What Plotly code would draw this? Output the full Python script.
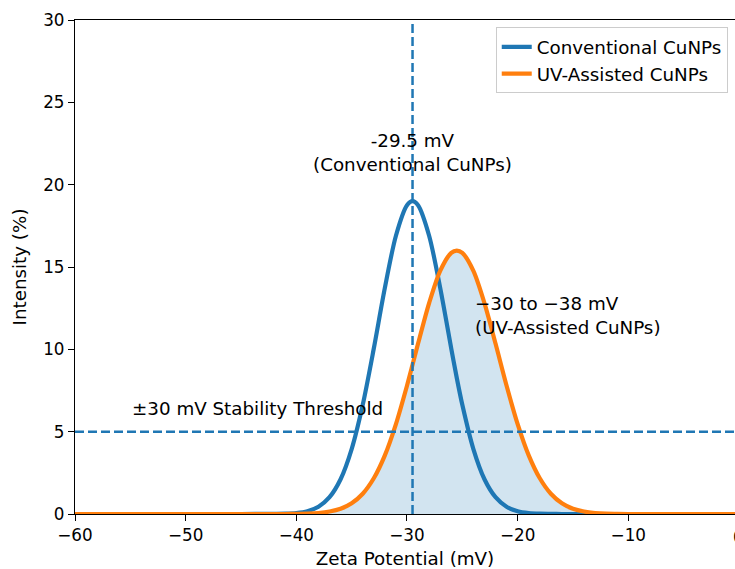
import plotly.graph_objects as go

# ---- data ----
zeta_mv = [-60, -50, -45, -42, -41, -40, -39, -38, -37, -36, -35, -34, -33, -32, -31, -30,
           -29.5, -29, -28, -27, -26, -25.5, -25, -24, -23, -22, -21, -20, -19, -18, -17,
           -16, -15, -14, -13, -12, -11, -10, 0]
conventional = [0, 0, 0, 0.01, 0.02, 0.06, 0.17, 0.44, 1.02, 2.11, 3.94, 6.63, 10.05, 13.73, 16.90, 18.75,
                19.0, 18.75, 16.90, 13.73, 10.05, 8.26, 6.63, 3.94, 2.11, 1.02, 0.44, 0.17, 0.06, 0.02, 0.01,
                0, 0, 0, 0, 0, 0, 0, 0]
uv_assisted = [0, 0, 0, 0, 0, 0.01, 0.02, 0.06, 0.15, 0.32, 0.65, 1.23, 2.17, 3.56, 5.46, 7.79,
               9.06, 10.35, 12.81, 14.77, 15.86, 16.0, 15.86, 14.77, 12.81, 10.35, 7.79, 5.46, 3.56, 2.17, 1.23,
               0.65, 0.32, 0.15, 0.06, 0.02, 0.01, 0, 0]
series_names = ["Conventional CuNPs", "UV-Assisted CuNPs"]
peak_conventional = -29.5
stability_threshold = 5
x_ticks = [-60, -50, -40, -30, -20, -10, 0]
x_tick_labels = ["\u221260", "\u221250", "\u221240", "\u221230", "\u221220", "\u221210", "0"]
y_ticks = [0, 5, 10, 15, 20, 25, 30]
y_tick_labels = ["0", "5", "10", "15", "20", "25", "30"]
label_conv = "-29.5 mV<br>(Conventional CuNPs)"
label_uv = "\u221230 to \u221238 mV<br>(UV-Assisted CuNPs)"
label_thr = "\u00b130 mV Stability Threshold"

C0 = "#1f77b4"
C1 = "#ff7f0e"
FONT = "DejaVu Sans"
BIG = 18.3
TICK = 16.8

# axis spans -60..0, but the picture is cut just before 0 (at about -0.36)
X_MIN, X_VISIBLE_MAX, X_FULL_MAX = -60, -0.36, 0

fig = go.Figure()
fig.add_trace(go.Scatter(x=zeta_mv, y=conventional, mode="lines", name=series_names[0],
                         line=dict(color=C0, width=4.2, shape="spline", smoothing=0.8)))
fig.add_trace(go.Scatter(x=zeta_mv, y=uv_assisted, mode="lines", showlegend=False,
                         line=dict(color="rgba(0,0,0,0)", width=0, shape="spline", smoothing=0.8),
                         fill="tozeroy", fillcolor="rgba(31,119,180,0.2)", hoverinfo="skip"))
fig.add_trace(go.Scatter(x=zeta_mv, y=uv_assisted, mode="lines", name=series_names[1],
                         line=dict(color=C1, width=4.2, shape="spline", smoothing=0.8)))

# reference lines
fig.add_shape(type="line", xref="x", yref="paper", x0=peak_conventional, x1=peak_conventional,
              y0=0, y1=1, line=dict(color=C0, width=2.5, dash="9px,4px"), layer="above")
fig.add_shape(type="line", xref="paper", yref="y", x0=0, x1=1,
              y0=stability_threshold, y1=stability_threshold,
              line=dict(color=C0, width=2.5, dash="9px,4px"), layer="above")

fig.add_annotation(x=peak_conventional, y=21.95, text=label_conv, showarrow=False,
                   xanchor="center", yanchor="middle", align="center",
                   font=dict(family=FONT, size=BIG, color="black"))
fig.add_annotation(x=-24, y=12.03, text=label_uv, showarrow=False,
                   xanchor="left", yanchor="middle", align="left",
                   font=dict(family=FONT, size=BIG, color="black"))
fig.add_annotation(x=-55, y=6.42, text=label_thr, showarrow=False,
                   xanchor="left", yanchor="middle", align="left",
                   font=dict(family=FONT, size=BIG, color="black"))

# the last tick label ("0") sits right at the cut edge of the picture
span = X_VISIBLE_MAX - X_MIN
fig.add_annotation(xref="paper", yref="paper", x=(x_ticks[-1] - X_MIN) / span, y=0,
                   yshift=-23, text=x_tick_labels[-1], showarrow=False,
                   xanchor="center", yanchor="middle",
                   font=dict(family=FONT, size=TICK, color="black"))

axis_common = dict(showgrid=False, zeroline=False, showline=True, linecolor="black", linewidth=1.3,
                   ticks="outside", ticklen=6, tickwidth=1.3, tickcolor="black",
                   tickfont=dict(family=FONT, size=TICK, color="black"))

fig.update_xaxes(range=[X_MIN, X_VISIBLE_MAX], tickmode="array", tickvals=x_ticks, ticktext=x_tick_labels,
                 mirror=True,
                 title=dict(text="Zeta Potential (mV)", font=dict(family=FONT, size=BIG, color="black"),
                            standoff=9),
                 **axis_common)
fig.update_yaxes(range=[0, 30], tickmode="array", tickvals=y_ticks, ticktext=y_tick_labels,
                 title=dict(text="Intensity (%)", font=dict(family=FONT, size=BIG, color="black"),
                            standoff=11),
                 **axis_common)

fig.update_layout(
    width=735, height=569,
    margin=dict(l=75, r=0, t=20, b=55),
    paper_bgcolor="white", plot_bgcolor="white",
    font=dict(family=FONT, size=BIG, color="black"),
    legend=dict(x=0.989, y=0.985, xanchor="right", yanchor="top",
                bgcolor="rgba(255,255,255,0.8)", bordercolor="#cccccc", borderwidth=1,
                font=dict(family=FONT, size=BIG, color="black")),
)

fig.write_html("out.html")
